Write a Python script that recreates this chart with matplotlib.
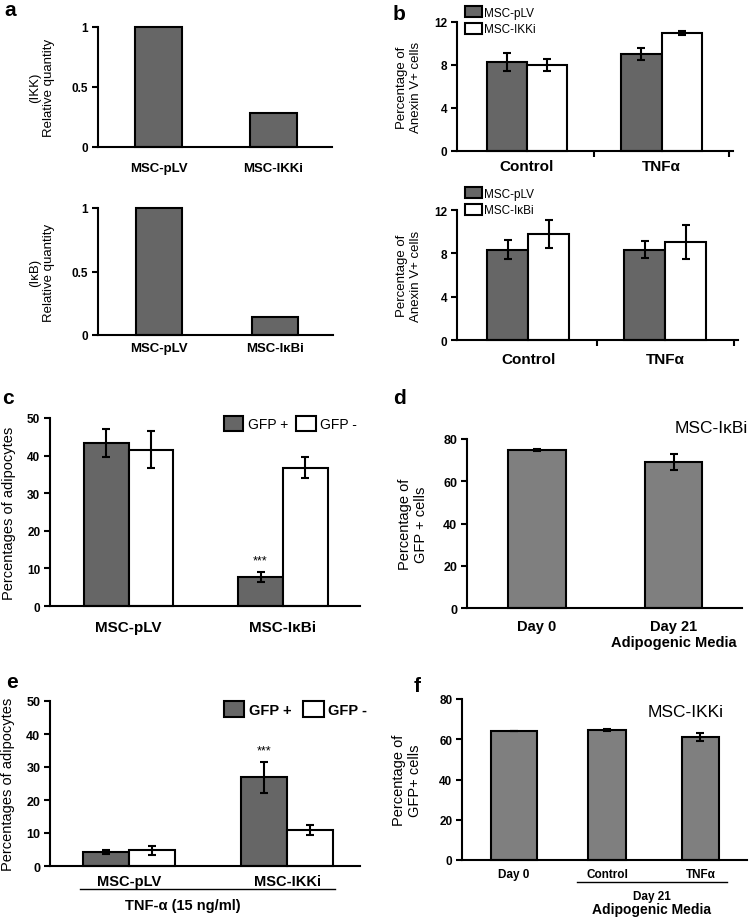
import matplotlib
matplotlib.use("Agg")
import matplotlib.pyplot as plt
from matplotlib.lines import Line2D

plt.rcParams['font.family'] = ['Liberation Sans', 'DejaVu Sans']

W, H = 750, 920
DARK = "#666666"
MID = "#7f7f7f"

# ---------------------------
# Data
# ---------------------------
a_top_cats = ["MSC-pLV", "MSC-IKKi"]
a_top_vals = [1.0, 0.28]
a_bot_cats = ["MSC-pLV", "MSC-IκBi"]
a_bot_vals = [1.0, 0.145]

b_groups = ["Control", "TNFα"]
b_top_plv = [8.3, 9.0]
b_top_plv_err = [0.85, 0.55]
b_top_ikki = [8.0, 11.0]
b_top_ikki_err = [0.55, 0.2]
b_bot_plv = [8.35, 8.35]
b_bot_plv_err = [0.9, 0.75]
b_bot_ikbi = [9.75, 9.05]
b_bot_ikbi_err = [1.3, 1.55]

c_groups = ["MSC-pLV", "MSC-IκBi"]
c_gfp_pos = [43.3, 7.7]
c_gfp_pos_err = [3.7, 1.3]
c_gfp_neg = [41.6, 36.8]
c_gfp_neg_err = [4.9, 2.7]

d_cats = ["Day 0", "Day 21\nAdipogenic Media"]
d_vals = [74.8, 69.0]
d_err = [0.3, 3.9]

e_groups = ["MSC-pLV", "MSC-IKKi"]
e_gfp_pos = [4.3, 26.9]
e_gfp_pos_err = [0.6, 4.7]
e_gfp_neg = [4.7, 10.9]
e_gfp_neg_err = [1.3, 1.5]

f_cats = ["Day 0", "Control", "TNFα"]
f_vals = [64.3, 64.5, 61.3]
f_err = [0.0, 0.4, 2.0]


# ---------------------------
# Helpers
# ---------------------------
def add_axes(fig, x0, x1, y0, y1):
    # box in pixels, y counted from the top of the figure
    return fig.add_axes([x0 / W, 1 - y1 / H, (x1 - x0) / W, (y1 - y0) / H])


def style(ax, ylim, yticks, ylabels, xlim, xpos, xlabels, xsize=9.5, ysize=8.5, xpad=6):
    ax.spines[['top', 'right']].set_visible(False)
    ax.spines[['left', 'bottom']].set_linewidth(1.5)
    ax.set_ylim(*ylim)
    ax.set_xlim(*xlim)
    ax.set_yticks(yticks, ylabels, fontweight='bold', fontsize=ysize)
    ax.set_xticks(xpos, xlabels, fontweight='bold', fontsize=xsize)
    ax.tick_params(axis='y', direction='out', length=4, width=1.5, pad=3)
    ax.tick_params(axis='x', length=0, pad=xpad)


def bars(ax, x, vals, width, color, err=None, label=None):
    b = ax.bar(x, vals, width, color=color, edgecolor='black', linewidth=1.5,
               clip_on=False, label=label, zorder=2)
    if err is not None:
        ax.errorbar(x, vals, yerr=err, fmt='none', ecolor='black', elinewidth=1.5,
                    capsize=3, capthick=1.5, zorder=3)
    return b


def panel_label(fig, x, y, s):
    fig.text(x / W, 1 - y / H, s, fontsize=15, fontweight='bold', va='center', ha='left')


fig = plt.figure(figsize=(W / 100, H / 100), dpi=100)

# ---------------------------
# Panel a
# ---------------------------
ax = add_axes(fig, 98, 332, 28, 148)
bars(ax, [0, 1], a_top_vals, 0.41, DARK)
style(ax, (0, 1), [0, 0.5, 1], ["0", "0.5", "1"], (-0.526, 1.51), [0, 1], a_top_cats,
      xpad=11)
ax.set_ylabel("(IKK)\nRelative quantity", fontsize=9.5, labelpad=12)

ax = add_axes(fig, 98, 333, 209, 336)
bars(ax, [0, 1], a_bot_vals, 0.40, DARK)
style(ax, (0, 1), [0, 0.5, 1], ["0", "0.5", "1"], (-0.526, 1.5), [0, 1], a_bot_cats,
      xpad=5)
ax.set_ylabel("(IκB)\nRelative quantity", fontsize=9.5, labelpad=12)

# ---------------------------
# Panel b
# ---------------------------
for (y0, y1, x1, plv, plv_err, kd, kd_err, kd_name, ly, pad) in [
        (23, 152, 733, b_top_plv, b_top_plv_err, b_top_ikki, b_top_ikki_err, "MSC-IKKi", 7, 6),
        (211, 341, 738, b_bot_plv, b_bot_plv_err, b_bot_ikbi, b_bot_ikbi_err, "MSC-IκBi", 188, 9)]:
    ax = add_axes(fig, 457, x1, y0, y1)
    h1 = bars(ax, [-0.15, 0.85], plv, 0.3, DARK, plv_err, "MSC-pLV")
    h2 = bars(ax, [0.15, 1.15], kd, 0.3, "white", kd_err, kd_name)
    style(ax, (0, 12), [0, 4, 8, 12], ["0", "4", "8", "12"], (-0.52, 1.53), [0, 1], b_groups,
          xsize=11, xpad=pad)
    ax.set_xticks([0.5, 1.5], minor=True)
    ax.tick_params(axis='x', which='minor', length=4, width=1.5, direction='out')
    ax.set_ylabel("Percentage of\nAnexin V+ cells", fontsize=9.5, labelpad=9)
    ax.legend(handles=[h1, h2], loc='upper left', bbox_to_anchor=(465 / W, 1 - ly / H),
              bbox_transform=fig.transFigure, frameon=False, fontsize=8.5,
              handlelength=1.4, handleheight=1.1, labelspacing=0.35, handletextpad=0.25,
              borderpad=0, borderaxespad=0)

# ---------------------------
# Panel c
# ---------------------------
ax = add_axes(fig, 50, 360, 419, 607)
h1 = bars(ax, [-0.145, 0.855], c_gfp_pos, 0.29, DARK, c_gfp_pos_err, "GFP +")
h2 = bars(ax, [0.145, 1.145], c_gfp_neg, 0.29, "white", c_gfp_neg_err, "GFP -")
style(ax, (0, 50), range(0, 51, 10), [str(v) for v in range(0, 51, 10)], (-0.51, 1.5),
      [0, 1], c_groups, xsize=11, xpad=10)
ax.text(0.855, c_gfp_pos[1] + c_gfp_pos_err[1] + 1.5, "***", ha='center', va='bottom',
        fontsize=9)
ax.set_ylabel("Percentages of adipocytes", fontsize=10.5, labelpad=8)
ax.legend(handles=[h1, h2], loc='upper left', bbox_to_anchor=(224 / W, 1 - 417 / H),
          bbox_transform=fig.transFigure, frameon=False, fontsize=10, ncol=2,
          handlelength=1.4, handleheight=1.3, handletextpad=0.3, columnspacing=0.6,
          borderpad=0, borderaxespad=0)

# ---------------------------
# Panel d
# ---------------------------
ax = add_axes(fig, 467, 742, 440, 609)
bars(ax, [0, 1], d_vals, 0.42, MID, d_err)
style(ax, (0, 80), range(0, 81, 20), [str(v) for v in range(0, 81, 20)], (-0.51, 1.5),
      [0, 1], d_cats, xsize=10.5, ysize=9, xpad=8)
ax.set_ylabel("Percentage of\nGFP + cells", fontsize=10.5, labelpad=11)
ax.text((675 - 467) / 275, 1.07, "MSC-IκBi", transform=ax.transAxes, ha='left',
        va='center', fontsize=12.5)

# ---------------------------
# Panel e
# ---------------------------
ax = add_axes(fig, 50, 360, 702, 867)
h1 = bars(ax, [-0.145, 0.855], e_gfp_pos, 0.29, DARK, e_gfp_pos_err, "GFP +")
h2 = bars(ax, [0.145, 1.145], e_gfp_neg, 0.29, "white", e_gfp_neg_err, "GFP -")
style(ax, (0, 50), range(0, 51, 10), [str(v) for v in range(0, 51, 10)], (-0.5, 1.46),
      [0, 1], e_groups, xsize=10.5, ysize=9, xpad=6)
ax.text(0.855, e_gfp_pos[1] + e_gfp_pos_err[1] + 1.5, "***", ha='center', va='bottom',
        fontsize=9)
ax.set_ylabel("Percentages of adipocytes", fontsize=10.5, labelpad=8)
leg = ax.legend(handles=[h1, h2], loc='upper left', bbox_to_anchor=(224 / W, 1 - 702 / H),
                bbox_transform=fig.transFigure, frameon=False, fontsize=10.5, ncol=2,
                handlelength=1.4, handleheight=1.3, handletextpad=0.3, columnspacing=0.8,
                borderpad=0, borderaxespad=0)
for t in leg.get_texts():
    t.set_fontweight('bold')
fig.add_artist(Line2D([80 / W, 335 / W], [1 - 890 / H] * 2, color='black', lw=1))
fig.text(183 / W, 1 - 906 / H, "TNF-α (15 ng/ml)", ha='center', va='center',
         fontsize=10.5, fontweight='bold')

# ---------------------------
# Panel f
# ---------------------------
ax = add_axes(fig, 462, 747, 700, 861)
bars(ax, [0, 1, 2], f_vals, [0.5, 0.41, 0.4], MID, f_err)
style(ax, (0, 80), range(0, 81, 20), [str(v) for v in range(0, 81, 20)], (-0.56, 2.5),
      [0, 1, 2], f_cats, xsize=8.5, ysize=8.5)
ax.set_ylabel("Percentage of\nGFP+ cells", fontsize=10.5, labelpad=12)
ax.text((648 - 462) / 285, 0.92, "MSC-IKKi", transform=ax.transAxes, ha='left',
        va='center', fontsize=12.5)
fig.add_artist(Line2D([577 / W, 727 / W], [1 - 883 / H] * 2, color='black', lw=1))
fig.text(652 / W, 1 - 897 / H, "Day 21", ha='center', va='center', fontsize=8.5,
         fontweight='bold')
fig.text(652 / W, 1 - 910 / H, "Adipogenic Media", ha='center', va='center',
         fontsize=10, fontweight='bold')

# ---------------------------
# Panel letters
# ---------------------------
panel_label(fig, 4, 10, "a")
panel_label(fig, 393, 14, "b")
panel_label(fig, 2, 398, "c")
panel_label(fig, 393, 398, "d")
panel_label(fig, 6, 683, "e")
panel_label(fig, 414, 687, "f")

fig.savefig("out.png", dpi=100)
